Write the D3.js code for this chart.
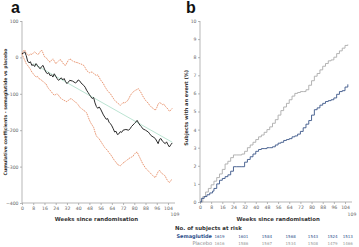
<!DOCTYPE html>
<html lang="en">
<head>
    <meta charset="UTF-8">
    <title>Cumulative coefficients and event curves</title>
    <style>
        body { margin: 0; background: white; }
        svg { display: block; font-family: "DejaVu Sans", sans-serif; }
        .axis path, .axis line { stroke: #999; stroke-width: .7; }
        .axis text { fill: #666; font-size: 4.6px; font-family: "DejaVu Sans", sans-serif; }
        .title { font-weight: bold; fill: #333; }
        .panel { font-family: "Liberation Sans", Arial, sans-serif; font-weight: bold; font-size: 16px; fill: #111; }
    </style>
</head>
<body>
<script src="https://cdn.jsdelivr.net/npm/d3@7"></script>
<script>
    const width = 359, height = 247;

    // panel a: cumulative coefficient (week, value)
    const estimate = [[0,10],[1,12],[2,15],[3,5],[4,-10],[5,-15],[6,-12],[7,-22],[8,-20],[9,-25],[10,-17],[11,-22],[12,-28],[13,-31],[14,-25],[15,-22],[16,-32],[17,-40],[18,-45],[19,-42],[20,-50],[21,-48],[22,-54],[23,-45],[24,-52],[25,-58],[26,-63],[27,-60],[28,-56],[29,-62],[30,-58],[31,-66],[32,-72],[33,-68],[34,-63],[36,-65],[38,-70],[39,-68],[40,-62],[41,-64],[42,-70],[44,-77],[45,-82],[46,-90],[47,-96],[48,-102],[49,-108],[50,-113],[51,-110],[52,-125],[53,-135],[54,-140],[55,-136],[56,-142],[57,-150],[58,-158],[59,-164],[60,-170],[61,-168],[62,-178],[63,-182],[64,-188],[65,-196],[66,-205],[67,-203],[68,-212],[69,-210],[70,-204],[71,-206],[72,-200],[74,-198],[76,-200],[77,-196],[78,-190],[80,-182],[81,-178],[82,-173],[83,-180],[84,-186],[85,-190],[86,-196],[88,-200],[90,-205],[91,-210],[92,-215],[94,-220],[95,-223],[96,-230],[97,-237],[98,-225],[99,-223],[100,-230],[102,-237],[103,-232],[104,-240],[105,-246],[106,-240],[107,-235]];
    const upperCI = [[0,10],[1,18],[2,20],[3,12],[4,8],[5,5],[6,10],[7,8],[8,12],[9,15],[10,12],[11,8],[12,10],[13,16],[14,20],[15,12],[16,2],[17,0],[18,-5],[19,-10],[20,-13],[21,-8],[22,-4],[23,-10],[24,-17],[25,-14],[26,-10],[27,-6],[28,-8],[29,-15],[30,-20],[31,-22],[32,-15],[33,-8],[34,-4],[35,-6],[36,-10],[38,-13],[40,-15],[41,-17],[42,-18],[44,-22],[45,-28],[46,-36],[48,-42],[50,-40],[51,-44],[53,-50],[54,-48],[55,-55],[56,-62],[58,-72],[59,-80],[60,-86],[61,-92],[63,-100],[64,-106],[65,-112],[66,-118],[68,-125],[69,-128],[70,-132],[71,-128],[72,-124],[73,-126],[74,-122],[75,-120],[76,-114],[77,-106],[78,-100],[79,-96],[80,-92],[81,-90],[82,-88],[83,-86],[84,-92],[85,-98],[86,-106],[87,-112],[88,-118],[90,-126],[91,-132],[92,-136],[94,-142],[95,-145],[96,-138],[97,-128],[98,-124],[99,-126],[100,-130],[101,-128],[102,-134],[103,-138],[104,-142],[105,-148],[106,-145],[107,-140]];
    const lowerCI = [[0,10],[1,0],[2,-8],[3,-17],[4,-22],[5,-27],[6,-33],[7,-40],[8,-45],[9,-50],[10,-54],[11,-52],[12,-58],[13,-60],[14,-63],[15,-66],[16,-70],[17,-72],[18,-80],[19,-86],[20,-90],[21,-95],[22,-100],[23,-104],[24,-102],[25,-100],[26,-104],[27,-110],[28,-113],[29,-116],[30,-118],[31,-120],[32,-122],[33,-118],[34,-115],[35,-113],[36,-116],[37,-120],[38,-122],[39,-126],[40,-130],[41,-136],[42,-140],[43,-142],[44,-146],[45,-148],[46,-152],[47,-162],[48,-172],[49,-180],[50,-186],[51,-192],[52,-205],[53,-216],[54,-220],[55,-224],[56,-230],[57,-236],[58,-242],[59,-248],[60,-252],[61,-256],[62,-262],[63,-266],[64,-272],[65,-278],[66,-284],[67,-288],[68,-294],[69,-296],[70,-298],[71,-294],[72,-290],[73,-288],[74,-284],[75,-282],[76,-278],[77,-276],[78,-274],[79,-272],[80,-266],[81,-262],[82,-260],[83,-268],[84,-276],[85,-284],[86,-292],[87,-298],[88,-304],[89,-308],[90,-312],[91,-316],[92,-320],[93,-324],[94,-328],[95,-330],[96,-322],[97,-314],[98,-310],[99,-316],[100,-320],[101,-322],[102,-326],[103,-334],[104,-340],[105,-344],[106,-338],[107,-335]];
    const trend = [[8,-17],[107,-233]];

    // panel b: cumulative incidence (%), week vs percent
    const placebo = [[0,0],[2,0.3],[4,0.55],[6,0.75],[8,0.95],[10,1.15],[12,1.35],[14,1.55],[16,1.8],[18,2.1],[20,2.25],[22,2.45],[24,2.6],[26,2.6],[28,2.6],[30,2.65],[32,2.8],[34,3.0],[36,3.15],[38,3.3],[40,3.45],[42,3.6],[44,3.7],[46,3.85],[48,4.0],[50,4.15],[52,4.35],[54,4.55],[56,4.8],[58,5.05],[60,5.25],[62,5.45],[64,5.65],[66,5.85],[68,6.0],[70,6.05],[72,6.1],[74,6.1],[76,6.2],[78,6.45],[80,6.7],[82,6.95],[84,7.1],[86,7.3],[88,7.5],[90,7.65],[92,7.8],[94,7.85],[96,8.0],[98,8.2],[100,8.35],[102,8.5],[104,8.65],[106,8.7]];
    const semaglutide = [[0,0],[1,0.2],[3,0.3],[5,0.4],[7,0.5],[9,0.6],[10,0.75],[12,1.0],[14,1.2],[16,1.3],[18,1.4],[20,1.5],[22,1.7],[24,1.95],[26,1.95],[28,1.95],[30,1.95],[32,2.2],[34,2.35],[36,2.5],[38,2.65],[40,2.8],[42,2.9],[44,2.95],[46,2.95],[48,3.0],[50,3.0],[52,3.05],[54,3.15],[56,3.25],[58,3.3],[60,3.4],[62,3.45],[64,3.5],[66,3.6],[68,3.65],[70,3.75],[72,3.9],[74,4.1],[76,4.3],[78,4.5],[80,4.8],[82,5.1],[84,5.2],[86,5.35],[88,5.45],[90,5.55],[92,5.6],[94,5.65],[96,5.75],[98,5.95],[100,6.1],[102,6.15],[104,6.35],[106,6.5]];

    // risk table
    const riskWeeks = [14, 31, 48, 65, 81, 95, 106];
    const riskSema = [1619, 1601, 1584, 1568, 1543, 1524, 1513];
    const riskPlacebo = [1616, 1586, 1567, 1534, 1508, 1479, 1466];

    const weekTicks = d3.range(0, 105, 8);
    const ticksA = [100, 0, -100, -200, -300, -400];
    const ticksB = d3.range(0, 11, 1);

    const svg = d3.select("body").append("svg")
        .attr("width", width).attr("height", height);

    // ---------- panel a ----------
    const xa = d3.scaleLinear([0, 109], [22, 175]);
    const ya = d3.scaleLinear([-400, 100], [203, 21]);

    svg.append("text").attr("class", "panel").attr("x", 11).attr("y", 13).text("a");

    svg.append("g").attr("class", "axis")
        .attr("transform", `translate(${xa(0)},0)`)
        .call(d3.axisLeft(ya).tickValues(ticksA).tickSize(2).tickPadding(1.5))
        .call(g => g.select(".domain").attr("d", `M0,${ya(100)}V${ya(-400)}`));

    svg.append("g").attr("class", "axis")
        .attr("transform", `translate(0,${ya(-400)})`)
        .call(d3.axisBottom(xa).tickValues(weekTicks).tickSize(2).tickPadding(1.5))
        .call(g => g.select(".domain").attr("d", `M${xa(0)},0H${xa(109)}`));

    svg.append("text").attr("class", "axis")
        .attr("x", xa(109)).attr("y", 216)
        .attr("text-anchor", "middle")
        .style("font-size", "4.6px").style("fill", "#666")
        .text("109");

    svg.append("text").attr("class", "title")
        .attr("transform", `translate(7,${ya(-150)}) rotate(-90)`)
        .attr("text-anchor", "middle")
        .style("font-size", "4.6px")
        .text("Cumulative coefficients - semaglutide vs placebo");

    svg.append("text").attr("class", "title")
        .attr("x", xa(53)).attr("y", 221)
        .attr("text-anchor", "middle")
        .style("font-size", "5.4px")
        .text("Weeks since randomisation");

    const lineA = d3.line().x(d => xa(d[0])).y(d => ya(d[1]));

    svg.append("path").datum(trend)
        .attr("d", lineA).attr("fill", "none")
        .attr("stroke", "#a9dcc6").attr("stroke-width", 0.8);

    [upperCI, lowerCI].forEach(ci => {
        svg.append("path").datum(ci)
            .attr("d", lineA).attr("fill", "none")
            .attr("stroke", "#e58a62").attr("stroke-width", 0.9)
            .attr("stroke-dasharray", "1.6,0.8");
    });

    svg.append("path").datum(estimate)
        .attr("d", lineA).attr("fill", "none")
        .attr("stroke", "#2a2a2a").attr("stroke-width", 1);

    // ---------- panel b ----------
    const xb = d3.scaleLinear([0, 109], [200, 352]);
    const yb = d3.scaleLinear([0, 10], [202, 21]);

    svg.append("text").attr("class", "panel").attr("x", 186).attr("y", 13).text("b");

    svg.append("g").attr("class", "axis")
        .attr("transform", `translate(${xb(0)},0)`)
        .call(d3.axisLeft(yb).tickValues(ticksB).tickSize(2).tickPadding(1.5))
        .call(g => g.select(".domain").attr("d", `M0,${yb(10)}V${yb(0)}`));

    svg.append("g").attr("class", "axis")
        .attr("transform", `translate(0,${yb(0)})`)
        .call(d3.axisBottom(xb).tickValues(weekTicks).tickSize(2).tickPadding(1.5))
        .call(g => g.select(".domain").attr("d", `M${xb(0)},0H${xb(109)}`));

    svg.append("text")
        .attr("x", xb(109)).attr("y", 216)
        .attr("text-anchor", "middle")
        .style("font-size", "4.6px").style("fill", "#666")
        .text("109");

    svg.append("text").attr("class", "title")
        .attr("transform", `translate(188,${yb(5.2)}) rotate(-90)`)
        .attr("text-anchor", "middle")
        .style("font-size", "5px")
        .text("Subjects with an event (%)");

    svg.append("text").attr("class", "title")
        .attr("x", xb(56)).attr("y", 221)
        .attr("text-anchor", "middle")
        .style("font-size", "5.4px")
        .text("Weeks since randomisation");

    const lineB = d3.line().curve(d3.curveStepAfter).x(d => xb(d[0])).y(d => yb(d[1]));

    svg.append("path").datum(placebo)
        .attr("d", lineB).attr("fill", "none")
        .attr("stroke", "#ababab").attr("stroke-width", 0.9);

    svg.append("path").datum(semaglutide)
        .attr("d", lineB).attr("fill", "none")
        .attr("stroke", "#3b5688").attr("stroke-width", 0.9);

    // risk table
    svg.append("text").attr("class", "title")
        .attr("x", 175).attr("y", 230)
        .style("font-size", "5.4px")
        .text("No. of subjects at risk");

    svg.append("text")
        .attr("x", 212).attr("y", 237.5).attr("text-anchor", "end")
        .style("font-size", "5px").style("font-weight", "bold").style("fill", "#2c4f8c")
        .text("Semaglutide");
    svg.append("text")
        .attr("x", 212).attr("y", 244.5).attr("text-anchor", "end")
        .style("font-size", "5px").style("fill", "#888")
        .text("Placebo");

    svg.selectAll("text.risk-s").data(riskSema).join("text").attr("class", "risk-s")
        .attr("x", (d, i) => xb(riskWeeks[i])).attr("y", 237.5)
        .attr("text-anchor", "middle")
        .style("font-size", "4px").style("fill", "#2c4f8c")
        .text(d => d);

    svg.selectAll("text.risk-p").data(riskPlacebo).join("text").attr("class", "risk-p")
        .attr("x", (d, i) => xb(riskWeeks[i])).attr("y", 244.5)
        .attr("text-anchor", "middle")
        .style("font-size", "4px").style("fill", "#999")
        .text(d => d);
</script>
</body>
</html>
